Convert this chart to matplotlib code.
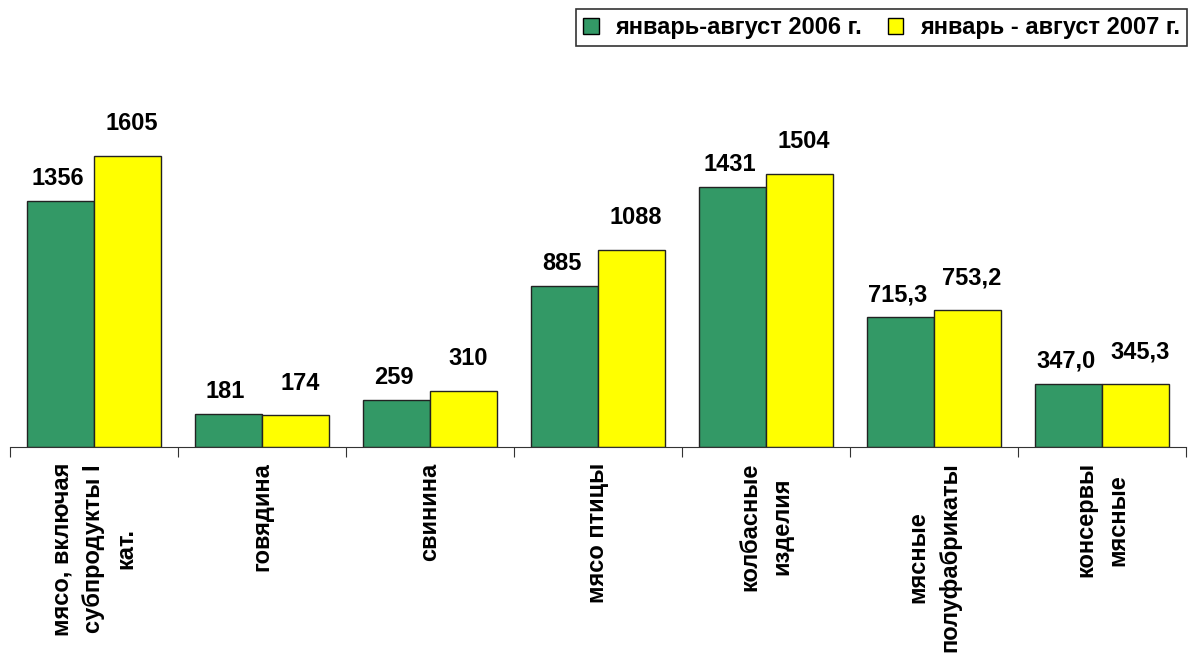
import numpy as np
import matplotlib
matplotlib.use("Agg")
import matplotlib.pyplot as plt
from matplotlib.patches import Patch

plt.rcParams['font.family'] = ['Liberation Sans', 'DejaVu Sans']
plt.rcParams['font.weight'] = 'bold'

# данные
categories = ['мясо, включая\nсубпродукты I\nкат.', 'говядина', 'свинина', 'мясо птицы',
              'колбасные\nизделия', 'мясные\nполуфабрикаты', 'консервы\nмясные']
vals_2006 = [1356, 181, 259, 885, 1431, 715.3, 347.0]
vals_2007 = [1605, 174, 310, 1088, 1504, 753.2, 345.3]
labels_2006 = ['1356', '181', '259', '885', '1431', '715,3', '347,0']
labels_2007 = ['1605', '174', '310', '1088', '1504', '753,2', '345,3']
series_names = ['январь-август 2006 г.', 'январь - август 2007 г.']

green = '#339966'
yellow = '#FFFF00'

W, H = 1193, 662
fig = plt.figure(figsize=(W / 100, H / 100), dpi=100, facecolor='white')
ax = fig.add_axes([10 / W, 215 / H, 1176 / W, (2000 / 5.51) / H])

x = np.arange(len(categories))
ax.bar(x + 0.3, vals_2006, width=0.4, color=green, edgecolor='#222222', linewidth=1)
ax.bar(x + 0.7, vals_2007, width=0.4, color=yellow, edgecolor='#222222', linewidth=1)

ax.set_xlim(0, len(categories))
ax.set_ylim(0, 2000)

for i in range(len(categories)):
    ax.annotate(labels_2006[i], (x[i] + 0.3, vals_2006[i]), xytext=(-2, 8),
                textcoords='offset points', ha='center', va='bottom',
                fontsize=17, fontweight='bold')
    ax.annotate(labels_2007[i], (x[i] + 0.7, vals_2007[i]), xytext=(3, 15),
                textcoords='offset points', ha='center', va='bottom',
                fontsize=17, fontweight='bold')
    ax.annotate(categories[i], (x[i] + 0.5, 0), xycoords=('data', 'axes fraction'),
                xytext=(0, -11), textcoords='offset points', rotation=90,
                ha='center', va='top', multialignment='center',
                fontsize=17, fontweight='bold', linespacing=1.5)

# оси
for s in ['top', 'right', 'left']:
    ax.spines[s].set_visible(False)
ax.spines['bottom'].set_color('#333333')
ax.set_yticks([])
ax.set_xticks(np.arange(len(categories) + 1))
ax.set_xticklabels([])
ax.tick_params(axis='x', direction='out', length=7, color='#333333')

handles = [Patch(facecolor=green, edgecolor='black'), Patch(facecolor=yellow, edgecolor='black')]
leg = fig.legend(handles, series_names, loc='upper right', bbox_to_anchor=(1187 / W, 1 - 9 / H),
                 ncol=2, fontsize=17, frameon=True, fancybox=False, handlelength=0.65,
                 handleheight=0.65, handletextpad=0.7, columnspacing=1.1, borderpad=0.3,
                 borderaxespad=0)
leg.get_frame().set_edgecolor('black')
leg.get_frame().set_linewidth(1.2)

fig.savefig('out.png', dpi=100, facecolor='white')
